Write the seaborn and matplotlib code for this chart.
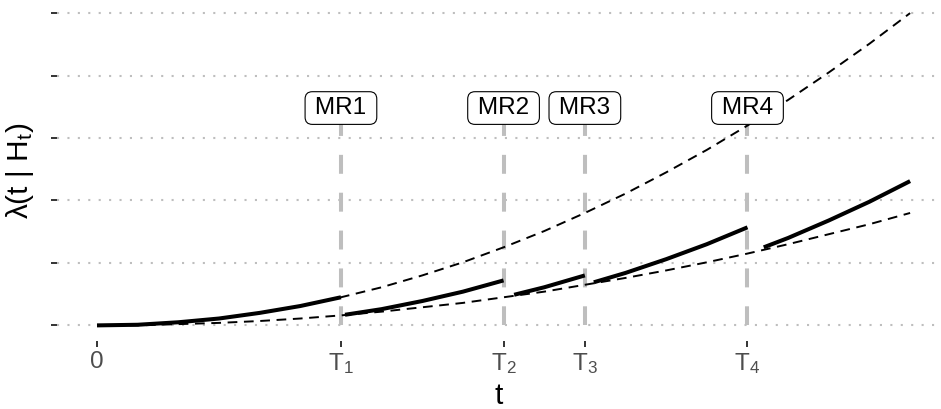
import matplotlib
matplotlib.use("Agg")
import matplotlib.pyplot as plt
import numpy as np
import pandas as pd
import seaborn as sns

# ---------------- data ----------------
repair_times = [3.0, 5.0, 6.0, 8.0]
repair_labels = ["MR1", "MR2", "MR3", "MR4"]

x_tick_pos = [0.0, 3.0, 5.0, 6.0, 8.0]
x_tick_labels = ["0", r"$\mathregular{T_1}$", r"$\mathregular{T_2}$",
                 r"$\mathregular{T_3}$", r"$\mathregular{T_4}$"]
y_tick_pos = [0, 1, 2, 3, 4, 5]

# baseline intensity (upper dashed)
t_grid = [0.0, 0.5, 1.0, 1.5, 2.0, 2.5, 3.0, 3.5, 4.0, 4.5, 5.0,
          5.5, 6.0, 6.5, 7.0, 7.5, 8.0, 8.5, 9.0, 9.5, 10.0]
upper_vals = [0.0, 0.01, 0.05, 0.11, 0.2, 0.31, 0.45, 0.61, 0.8, 1.01, 1.25,
              1.51, 1.8, 2.11, 2.45, 2.81, 3.2, 3.61, 4.05, 4.51, 5.0]
# minimal wear intensity (lower dashed)
lower_vals = [0.0, 0.0, 0.02, 0.04, 0.07, 0.11, 0.16, 0.22, 0.29, 0.36, 0.45,
              0.54, 0.65, 0.76, 0.88, 1.01, 1.15, 1.30, 1.46, 1.62, 1.80]

# conditional intensity (solid), one list per segment between repairs
seg1_t = [0.0, 0.5, 1.0, 1.5, 2.0, 2.5, 3.0]
seg1_v = [0.0, 0.01, 0.05, 0.11, 0.2, 0.31, 0.45]
seg2_t = [3.05, 3.5, 4.0, 4.5, 5.0]
seg2_v = [0.17, 0.26, 0.39, 0.54, 0.72]
seg3_t = [5.13, 5.5, 6.0]
seg3_v = [0.49, 0.61, 0.80]
seg4_t = [6.11, 6.5, 7.0, 7.5, 8.0]
seg4_v = [0.69, 0.84, 1.06, 1.30, 1.57]
seg5_t = [8.2, 8.5, 9.0, 9.5, 10.0]
seg5_v = [1.25, 1.40, 1.68, 1.98, 2.31]

# ---------------- style ----------------
sns.set_theme(style="white")
plt.rcParams["font.family"] = ["Liberation Sans", "DejaVu Sans"]
plt.rcParams["mathtext.default"] = "regular"

segs = [(seg1_t, seg1_v), (seg2_t, seg2_v), (seg3_t, seg3_v),
        (seg4_t, seg4_v), (seg5_t, seg5_v)]
solid_df = pd.concat(
    [pd.DataFrame({"t": st, "lam": sv, "seg": i}) for i, (st, sv) in enumerate(segs)],
    ignore_index=True)
dash_df = pd.DataFrame({"t": t_grid, "upper": upper_vals, "lower": lower_vals})

W, H = 941, 409
fig = plt.figure(figsize=(W / 100, H / 100), dpi=100)
ax = fig.add_axes([57 / W, 68 / H, (W - 57) / W, 341 / H])
ax.set_facecolor("white")

# horizontal dotted grid
ax.set_axisbelow(True)
ax.yaxis.grid(True, color="#BEBEBE", linewidth=1.5, linestyle=(0, (1, 4)))
ax.xaxis.grid(False)

# grey dashed markers at repair times
seg_top = 3.33
label_y = 3.48
for T in repair_times:
    ax.plot([T, T], [seg_top, 0], color="#BEBEBE", lw=2.9,
            linestyle=(0, (4.7, 4.7)), dash_capstyle="butt", zorder=1.5)

# dashed envelopes
sns.lineplot(data=dash_df, x="t", y="upper", ax=ax, color="black", lw=1.4,
             linestyle=(0, (5.0, 3.4)), zorder=2)
sns.lineplot(data=dash_df, x="t", y="lower", ax=ax, color="black", lw=1.4,
             linestyle=(0, (5.0, 3.4)), zorder=2)

# solid conditional intensity
sns.lineplot(data=solid_df, x="t", y="lam", units="seg", estimator=None, ax=ax,
             color="black", lw=2.9, solid_capstyle="butt", zorder=3)

# repair labels
for T, lab in zip(repair_times, repair_labels):
    ax.text(T, label_y, "\u2009" + lab + "\u2009", ha="center", va="center",
            fontsize=17.5, color="black", zorder=5,
            bbox=dict(boxstyle="round,pad=0.22,rounding_size=0.3", fc="white",
                      ec="black", lw=0.8))

ax.set_xlim(-0.492, 10.38)
ax.set_ylim(-0.25, 5.21)
ax.set_xticks(x_tick_pos)
ax.set_xticklabels(x_tick_labels)
ax.set_yticks(y_tick_pos)
ax.set_yticklabels([""] * len(y_tick_pos))
ax.tick_params(axis="both", which="major", length=4.3, width=1.4,
               color="#333333", labelcolor="#4D4D4D", labelsize=17.5, pad=3,
               bottom=True, left=True)
for s in ax.spines.values():
    s.set_visible(False)

ax.set_xlabel("t", fontsize=21.5, color="black", labelpad=4)
ax.set_ylabel(r"λ(t | $\mathregular{H_t}$)", fontsize=21.5, color="black", labelpad=8)

fig.savefig("out.png", dpi=100, facecolor="white")
